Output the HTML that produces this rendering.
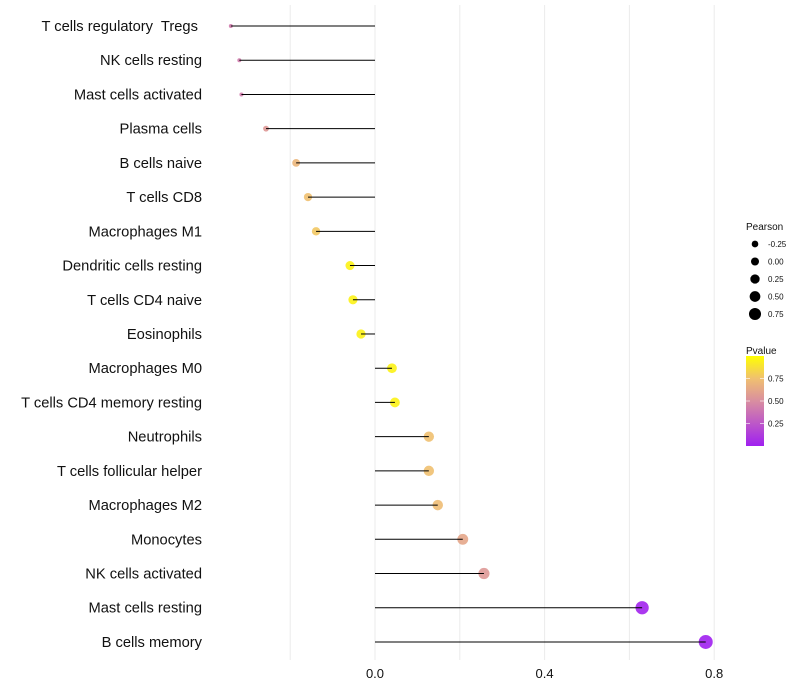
<!DOCTYPE html>
<html><head><meta charset="utf-8"><style>
body{margin:0;background:#fff;}
svg{display:block;font-family:"Liberation Sans",sans-serif;}
text{white-space:pre;}
</style></head><body>
<svg id="c" width="800" height="700"></svg>
<script>
const categories=["T cells regulatory  Tregs ","NK cells resting","Mast cells activated","Plasma cells","B cells naive","T cells CD8","Macrophages M1","Dendritic cells resting","T cells CD4 naive","Eosinophils","Macrophages M0","T cells CD4 memory resting","Neutrophils","T cells follicular helper","Macrophages M2","Monocytes","NK cells activated","Mast cells resting","B cells memory"];
const pearson=[-0.34,-0.32,-0.315,-0.257,-0.186,-0.158,-0.139,-0.059,-0.052,-0.033,0.04,0.047,0.127,0.127,0.148,0.207,0.257,0.63,0.78];
const pvalue=[0.42,0.42,0.42,0.55,0.7,0.75,0.78,0.95,0.95,0.95,0.95,0.95,0.75,0.75,0.73,0.62,0.55,0.02,0.001];
const xTicks=[0,0.4,0.8];
const xTickLabels=["0.0","0.4","0.8"];
const gridVals=[-0.2,0.2,0.6];
const sizeBreaks=[-0.25,0,0.25,0.5,0.75];
const sizeLabels=["-0.25","0.00","0.25","0.50","0.75"];
const pTicks=[0.25,0.5,0.75];
const pTickLabels=["0.25","0.50","0.75"];

const NS="http://www.w3.org/2000/svg";
const svg=document.getElementById('c');
const x=v=>375+v*424;
const y=i=>26+i*34.22;
const r=p=>Math.sqrt(Math.max(4,22.5+34*p-60*Math.max(0,-0.17-p)));
const stops=[[0,[160,32,240]],[0.5,[217,142,160]],[0.75,[240,192,112]],[1,[255,255,0]]];
function col(p){for(let k=1;k<stops.length;k++){if(p<=stops[k][0]){const a=stops[k-1],b=stops[k],t=(p-a[0])/(b[0]-a[0]);const c=a[1].map((v,j)=>Math.round(v+(b[1][j]-v)*t));return `rgb(${c})`;}}return 'rgb(255,255,0)';}
function mk(tag,attrs,parent){const e=document.createElementNS(NS,tag);for(const k in attrs)e.setAttribute(k,attrs[k]);(parent||svg).appendChild(e);return e;}

[...gridVals,...xTicks].forEach(v=>{const l=mk('line',{x1:x(v),x2:x(v),y1:5,y2:660,stroke:'#ebebeb','stroke-width':1});

});
xTicks.forEach((v,i)=>{const t=mk('text',{x:x(v),y:678,'text-anchor':'middle','font-size':13,fill:'#111'});t.textContent=xTickLabels[i];

});

categories.forEach((c,i)=>{
 const t=mk('text',{x:202,y:y(i)+5,'text-anchor':'end','font-size':14.7,fill:'#111'});t.textContent=c;
 
 
 const d=mk('circle',{cx:x(pearson[i]),cy:y(i),r:r(pearson[i]),fill:col(pvalue[i]),'fill-opacity':0.9});
 
 
 const l=mk('line',{x1:x(0),x2:x(pearson[i]),y1:y(i),y2:y(i),stroke:'#000','stroke-width':1});
 
 
});

let t=mk('text',{x:746,y:230,'font-size':10,fill:'#111'});t.textContent='Pearson';


sizeBreaks.forEach((s,i)=>{const yy=244+i*17.5;
 const c=mk('circle',{cx:755,cy:yy,r:Math.max(2.5,4+2.7*s),fill:'#000'});
 
 
 const tt=mk('text',{x:768,y:yy+3,'font-size':8,fill:'#111'});tt.textContent=sizeLabels[i];
 
 });
t=mk('text',{x:746,y:354,'font-size':10,fill:'#111'});t.textContent='Pvalue';


const defs=mk('defs',{});const g=mk('linearGradient',{id:'pg',x1:0,y1:1,x2:0,y2:0},defs);
stops.forEach(s=>mk('stop',{offset:s[0],'stop-color':`rgb(${s[1]})`},g));
const py=v=>446-v*90;
const bar=mk('rect',{x:746,y:py(1),width:18,height:90,fill:'url(#pg)'});


pTicks.forEach((v,i)=>{mk('line',{x1:746,x2:750,y1:py(v),y2:py(v),stroke:'#fff','stroke-opacity':0.6});mk('line',{x1:760,x2:764,y1:py(v),y2:py(v),stroke:'#fff','stroke-opacity':0.6});
 const tt=mk('text',{x:768,y:py(v)+3,'font-size':8,fill:'#111'});tt.textContent=pTickLabels[i];
 
 });
</script>
</body></html>
